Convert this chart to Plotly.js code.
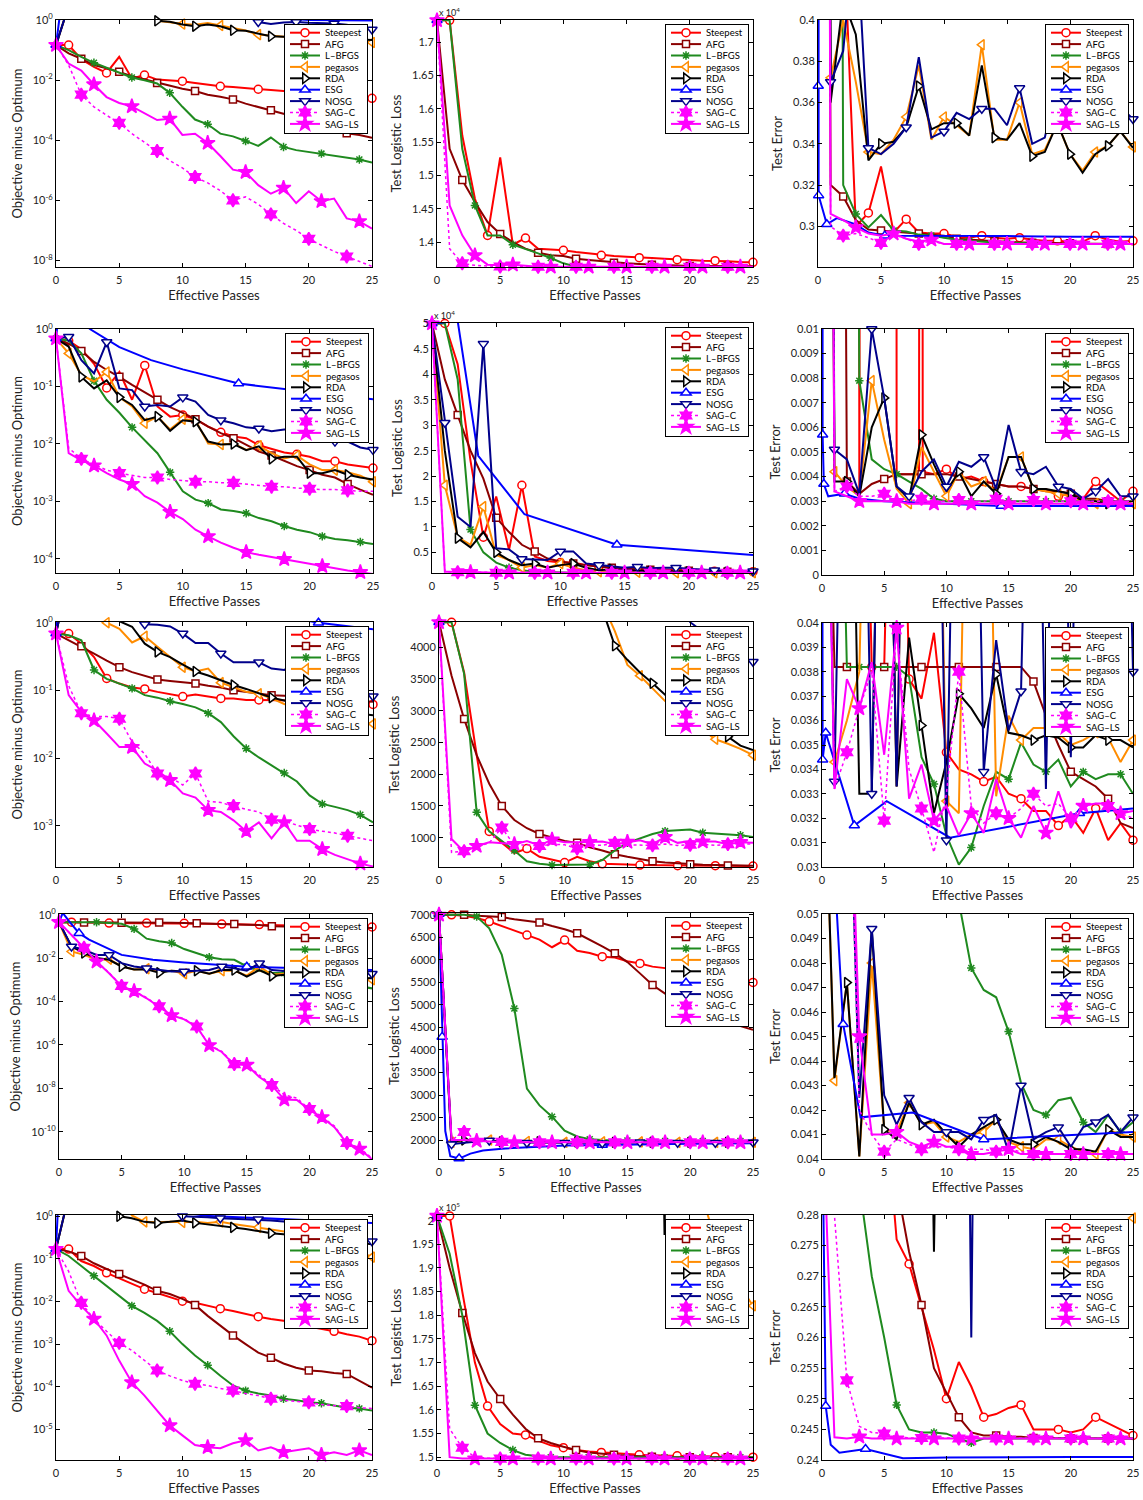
<!DOCTYPE html>
<html><head><meta charset="utf-8">
<script src="https://cdn.plot.ly/plotly-3.0.1.min.js"></script>
<style>html,body{margin:0;padding:0;background:#fff}#chart{width:1143px;height:1500px}</style>
</head><body><div id="chart"></div>
<script>
// ---------------- DATA ----------------
const passes = [0,1,2,3,4,5,6,7,8,9,10,11,12,13,14,15,16,17,18,19,20,21,22,23,24,25];
const seriesNames = ['Steepest','AFG','L\u2013BFGS','pegasos','RDA','ESG','NOSG','SAG\u2013C','SAG\u2013LS'];

// Panel 1
const p1_steep = [0.148,0.148,0.05,0.028,0.0174,0.06,0.0115,0.0148,0.0105,0.0098,0.0093,0.0081,0.0071,0.0063,0.0059,0.0054,0.005,0.0047,0.0044,0.0041,0.0038,0.0035,0.0034,0.0032,0.003,0.0025];
const p1_afg = [0.148,0.078,0.052,0.032,0.025,0.019,0.0135,0.0105,0.0081,0.0063,0.0052,0.0044,0.0033,0.0028,0.0023,0.00166,0.0013,0.001,7.6e-4,5.8e-4,4.2e-4,3.2e-4,2.3e-4,1.7e-4,1.5e-4,1.2e-4];
const p1_lbfgs = [0.148,0.1,0.06,0.038,0.026,0.0174,0.0123,0.01,0.0078,0.0038,0.0013,4.9e-4,3.4e-4,1.66e-4,1.35e-4,9.5e-5,6.5e-5,1.23e-4,6e-5,4.7e-5,4.1e-5,3.6e-5,3.2e-5,2.75e-5,2.3e-5,1.8e-5];
const p1_peg = [0.148,3,3,3,3,3,3,2,0.95,0.85,0.74,0.7,0.8,0.66,0.55,0.45,0.33,0.3,0.28,0.26,0.24,0.22,0.21,0.2,0.19,0.18];
const p1_rda = [0.148,3,3,3,3,3,3,2,0.95,0.88,0.72,0.63,0.72,0.63,0.46,0.44,0.36,0.29,0.28,0.29,0.28,0.26,0.25,0.24,0.23,0.22];
const p1_esg_x = [0,0.4,20,22,25];
const p1_esg = [0.148,3,1.02,0.98,0.97];
const p1_nosg = [0.148,3,3,3,3,3,3,3,3,3,3,3,3,3,3,3,0.87,0.74,0.84,0.87,0.82,0.8,0.78,0.7,0.6,0.49];
const p1_sagc = [0.148,0.032,3.3e-3,1.3e-3,6.8e-4,3.8e-4,1.66e-4,8.7e-5,4.4e-5,2.1e-5,1.2e-5,6e-6,3.8e-6,2.1e-6,1e-6,1.3e-6,7.4e-7,3.4e-7,1.7e-7,1e-7,5.2e-8,3.2e-8,2e-8,1.35e-8,9.3e-9,6.3e-9];
const p1_sagls = [0.148,0.036,0.021,7.2e-3,2.75e-3,1.74e-3,1.35e-3,7.8e-4,4.7e-4,5.2e-4,1.5e-4,1.66e-4,8.1e-5,3e-5,1.05e-5,8.7e-6,3.2e-6,1.66e-6,2.6e-6,8.1e-7,2e-6,9.3e-7,1.15e-6,2.5e-7,2e-7,1.15e-7];

// Panel 2 (x 10^4)
const p2_steep = [1.733,1.733,1.56,1.465,1.41,1.527,1.396,1.406,1.39,1.389,1.3875,1.385,1.383,1.38,1.379,1.378,1.3765,1.376,1.375,1.3735,1.373,1.372,1.372,1.371,1.37,1.3695];
const p2_afg = [1.733,1.54,1.493,1.46,1.43,1.412,1.4,1.39,1.384,1.38,1.379,1.375,1.373,1.371,1.369,1.368,1.367,1.366,1.365,1.365,1.364,1.364,1.364,1.3635,1.3635,1.3635];
const p2_lbfgs = [1.733,1.733,1.54,1.455,1.41,1.41,1.396,1.39,1.383,1.376,1.368,1.363,1.362,1.362,1.362,1.362,1.362,1.362,1.362,1.362,1.362,1.362,1.362,1.362,1.362,1.362];
const p2_off_x = [0,0.3,25];
const p2_peg = [1.733,2.5,2.5];
const p2_rda = [1.733,2.5,2.5];
const p2_esg = [1.733,2.5,2.5];
const p2_nosg = [1.733,2.5,2.5];
const p2_sagc = [1.733,1.39,1.368,1.365,1.364,1.3632,1.363,1.363,1.3628,1.3628,1.3628,1.3628,1.3628,1.3628,1.3628,1.3628,1.3628,1.3628,1.3628,1.3628,1.3628,1.3628,1.3628,1.3628,1.3628,1.3628];
const p2_sagls = [1.733,1.455,1.41,1.38,1.366,1.365,1.366,1.364,1.3628,1.3628,1.3628,1.3628,1.3628,1.3628,1.3628,1.3628,1.3628,1.3628,1.3628,1.3628,1.3628,1.3628,1.3628,1.3628,1.3628,1.3628];

// Panel 3
const p3_steep = [2,2,0.45,0.3,0.3065,0.329,0.297,0.3035,0.297,0.2965,0.2965,0.295,0.2945,0.2955,0.2945,0.294,0.2945,0.2935,0.293,0.293,0.2925,0.2925,0.2955,0.2935,0.2925,0.293];
const p3_afg = [2,0.32,0.3145,0.303,0.2985,0.298,0.2975,0.297,0.2965,0.296,0.2955,0.294,0.2935,0.293,0.2928,0.2925,0.2922,0.292,0.292,0.2918,0.2918,0.2916,0.2916,0.2915,0.2915,0.2915];
const p3_lbfgs = [2,2,0.32,0.306,0.2995,0.3055,0.298,0.2975,0.296,0.2955,0.2945,0.2935,0.293,0.2925,0.2922,0.292,0.292,0.2918,0.2916,0.2915,0.2915,0.2915,0.2915,0.2915,0.2915,0.2915];
const p3_peg = [2,0.372,0.4,0.37,0.336,0.335,0.342,0.353,0.378,0.342,0.353,0.349,0.344,0.388,0.342,0.342,0.36,0.335,0.337,0.35,0.335,0.327,0.336,0.339,0.346,0.3385];
const p3_rda = [2,0.36,0.41,0.393,0.332,0.34,0.341,0.348,0.368,0.347,0.35,0.35,0.344,0.378,0.343,0.342,0.35,0.334,0.336,0.35,0.335,0.326,0.335,0.339,0.346,0.338];
const p3_esg_x = [0,0.02,0.05,0.7,1.5,3,4,5.3,10,15,20,25];
const p3_esg = [2,0.368,0.315,0.301,0.304,0.301,0.297,0.2955,0.2955,0.2953,0.295,0.295];
const p3_nosg = [2,0.37,0.385,0.45,0.338,0.335,0.34,0.348,0.382,0.343,0.346,0.355,0.352,0.357,0.357,0.349,0.367,0.34,0.343,0.37,0.36,0.347,0.355,0.356,0.358,0.352];
const p3_sagc = [2,0.3,0.2955,0.2965,0.2945,0.292,0.296,0.294,0.2915,0.293,0.2915,0.2915,0.2915,0.2915,0.2915,0.2915,0.2915,0.2915,0.2915,0.2915,0.2915,0.2915,0.2915,0.2915,0.2915,0.2915];
const p3_sagls = [2,0.306,0.303,0.2995,0.2965,0.2955,0.2965,0.294,0.2925,0.2935,0.2915,0.2915,0.2915,0.2915,0.2915,0.2915,0.2915,0.2915,0.2915,0.2915,0.2915,0.2915,0.2915,0.2915,0.2915,0.2915];

// Panel 4
const p4_steep = [0.69,0.63,0.45,0.25,0.095,0.18,0.059,0.234,0.045,0.03,0.032,0.027,0.02,0.016,0.0135,0.0126,0.0095,0.0081,0.0071,0.0066,0.006,0.005,0.005,0.0044,0.0041,0.0038];
const p4_afg = [0.69,0.56,0.42,0.27,0.195,0.148,0.107,0.079,0.059,0.044,0.035,0.027,0.02,0.0155,0.0126,0.0098,0.0074,0.0063,0.005,0.0041,0.0035,0.0029,0.0026,0.002,0.0016,0.0013];
const p4_lbfgs = [0.69,0.63,0.38,0.126,0.059,0.035,0.0195,0.0117,0.0069,0.0032,0.0015,0.00107,9.3e-4,7.2e-4,6.8e-4,6.2e-4,5.1e-4,4.5e-4,3.7e-4,3.2e-4,2.9e-4,2.45e-4,2.2e-4,2.1e-4,1.95e-4,1.8e-4];
const p4_peg = [0.69,0.38,0.16,0.123,0.18,0.066,0.045,0.023,0.03,0.018,0.027,0.026,0.0102,0.0098,0.0102,0.0079,0.0093,0.0069,0.0056,0.0063,0.0044,0.0035,0.0035,0.0032,0.0028,0.0022];
const p4_rda = [0.69,0.5,0.148,0.093,0.129,0.065,0.048,0.026,0.03,0.017,0.026,0.0245,0.011,0.0098,0.01,0.0078,0.0091,0.0055,0.006,0.006,0.0031,0.0031,0.0035,0.0029,0.0026,0.0024];
const p4_esg_x = [0,0.3,2.7,5,7.5,10,14.4,20,25];
const p4_esg = [0.69,3,1.0,0.49,0.29,0.2,0.113,0.08,0.06];
const p4_nosg = [0.69,0.74,0.29,0.17,0.6,0.093,0.087,0.045,0.048,0.045,0.065,0.055,0.032,0.026,0.023,0.0195,0.0186,0.0166,0.0178,0.0178,0.0145,0.0126,0.011,0.011,0.0087,0.0079];
const p4_sagc = [0.69,0.0085,0.0055,0.0044,0.0035,0.0031,0.0028,0.0026,0.0026,0.0024,0.0023,0.0022,0.0022,0.0021,0.0021,0.002,0.0019,0.0018,0.0018,0.0017,0.00166,0.0016,0.0016,0.00155,0.0015,0.0015];
const p4_sagls = [0.69,0.0069,0.0052,0.0042,0.0031,0.0024,0.002,0.00123,9.5e-4,6.5e-4,4.9e-4,3.2e-4,2.45e-4,1.9e-4,1.55e-4,1.3e-4,1.17e-4,1.07e-4,9.8e-5,8.7e-5,8.1e-5,7.4e-5,6.8e-5,6.2e-5,5.8e-5,5.4e-5];

// Panel 5 (x 10^4)
const p5_steep = [5,5,4.2,2.3,0.8,1.6,0.55,1.82,0.42,0.33,0.3,0.3,0.25,0.22,0.2,0.19,0.18,0.17,0.16,0.15,0.14,0.14,0.13,0.13,0.12,0.12];
const p5_afg = [5,3.9,3.2,2.5,1.95,1.18,0.9,0.65,0.52,0.38,0.32,0.28,0.25,0.22,0.2,0.18,0.17,0.16,0.15,0.14,0.14,0.13,0.13,0.12,0.12,0.12];
const p5_lbfgs = [5,5,3.9,0.95,0.5,0.3,0.2,0.15,0.12,0.11,0.1,0.1,0.1,0.1,0.1,0.1,0.1,0.1,0.1,0.1,0.1,0.1,0.1,0.1,0.1,0.1];
const p5_peg = [5,1.82,0.8,0.65,1.4,0.45,0.35,0.2,0.25,0.2,0.28,0.2,0.15,0.12,0.12,0.11,0.11,0.11,0.1,0.1,0.1,0.1,0.1,0.1,0.1,0.1];
const p5_rda = [5,2.5,0.78,0.6,0.9,0.5,0.35,0.25,0.28,0.2,0.25,0.28,0.2,0.15,0.17,0.15,0.14,0.13,0.13,0.12,0.12,0.12,0.11,0.11,0.11,0.11];
const p5_esg_x = [0,2,3.6,7.2,14.4,25];
const p5_esg = [5,5.05,2.4,1.25,0.65,0.45];
const p5_nosg = [5,3.05,1.2,1.0,4.6,0.58,0.56,0.37,0.36,0.35,0.52,0.52,0.28,0.25,0.22,0.2,0.22,0.19,0.2,0.2,0.18,0.16,0.15,0.14,0.13,0.13];
const p5_sagc = [5,0.12,0.11,0.11,0.105,0.1,0.1,0.1,0.1,0.1,0.1,0.1,0.1,0.1,0.1,0.1,0.1,0.1,0.1,0.1,0.1,0.1,0.1,0.1,0.1,0.1];
const p5_sagls = [5,0.12,0.12,0.11,0.1,0.1,0.1,0.1,0.1,0.1,0.1,0.1,0.1,0.1,0.1,0.1,0.1,0.1,0.1,0.1,0.1,0.1,0.1,0.1,0.1,0.1];

// Panel 6
const p6_steep_x = [0,2.9,3,3.3,5.9,6,7.8,7.95,8.1,9,10,11,12,13,14,15,16,17,18,19,20,21,22,23,24,25];
const p6_steep = [0.1,0.1,0.0031,0.1,0.1,0.0041,0.0041,0.1,0.0042,0.0041,0.0043,0.0039,0.004,0.0038,0.0037,0.0036,0.0036,0.0035,0.0035,0.0032,0.0033,0.0031,0.0038,0.0034,0.003,0.0034];
const p6_afg = [0.1,0.1,0.0038,0.0033,0.0037,0.0039,0.0041,0.0041,0.0041,0.0041,0.0041,0.004,0.0039,0.0038,0.0037,0.0036,0.0036,0.0035,0.0034,0.0034,0.0033,0.0031,0.0031,0.003,0.003,0.003];
const p6_lbfgs = [0.1,0.1,0.1,0.0079,0.0047,0.0043,0.0041,0.0038,0.0035,0.0031,0.003,0.003,0.003,0.003,0.003,0.003,0.003,0.003,0.003,0.003,0.003,0.003,0.003,0.003,0.003,0.003];
const p6_peg = [0.1,0.0042,0.0036,0.0032,0.0079,0.0055,0.0035,0.0029,0.0052,0.0042,0.0032,0.0042,0.0036,0.0038,0.0034,0.0048,0.0048,0.0035,0.0034,0.0033,0.0032,0.003,0.0029,0.003,0.0029,0.0029];
const p6_rda = [0.1,0.0038,0.0038,0.0032,0.006,0.0072,0.0036,0.0031,0.0057,0.0045,0.0034,0.0042,0.0032,0.0038,0.0033,0.0048,0.0048,0.0035,0.0035,0.0034,0.0033,0.003,0.003,0.0029,0.0029,0.0029];
const p6_esg_x = [0,0.05,0.15,0.5,1.8,3,5,10,14.4,20,25];
const p6_esg = [0.1,0.0057,0.0037,0.0032,0.0033,0.0031,0.003,0.0029,0.0028,0.0028,0.0028];
const p6_nosg = [0.1,0.0051,0.0047,0.0033,0.01,0.0072,0.0036,0.0032,0.0042,0.0047,0.0036,0.0046,0.0044,0.0048,0.0035,0.0061,0.0042,0.0041,0.0044,0.0036,0.0035,0.0031,0.0034,0.0039,0.0032,0.0032];
const p6_sagc = [0.1,0.0034,0.0036,0.0032,0.0032,0.0033,0.0031,0.003,0.0031,0.003,0.003,0.00305,0.003,0.003,0.0031,0.003,0.003,0.00305,0.003,0.003,0.003,0.003,0.003,0.003,0.003,0.003];
const p6_sagls = [0.1,0.0034,0.0032,0.003,0.003,0.003,0.003,0.0029,0.0029,0.0029,0.0029,0.0029,0.0029,0.0029,0.0029,0.0029,0.0029,0.0029,0.0029,0.0029,0.0029,0.0029,0.0029,0.0029,0.0029,0.0029];

// Panel 7
const p7_steep = [0.69,0.69,0.49,0.31,0.15,0.126,0.11,0.105,0.095,0.087,0.081,0.087,0.081,0.076,0.076,0.072,0.072,0.072,0.072,0.071,0.069,0.069,0.068,0.066,0.065,0.062];
const p7_afg = [0.69,0.55,0.45,0.35,0.275,0.22,0.186,0.166,0.145,0.138,0.132,0.126,0.117,0.11,0.1,0.095,0.089,0.085,0.083,0.079,0.078,0.076,0.074,0.072,0.071,0.068];
const p7_lbfgs = [0.69,0.65,0.55,0.2,0.148,0.126,0.107,0.085,0.078,0.069,0.063,0.056,0.046,0.034,0.021,0.0138,0.0102,0.0078,0.006,0.0045,0.0028,0.0021,0.0019,0.0017,0.00145,0.00112];
const p7_peg = [0.69,5,5,2,1.0,0.81,0.51,0.63,0.44,0.31,0.22,0.19,0.21,0.13,0.112,0.095,0.089,0.076,0.063,0.056,0.05,0.045,0.04,0.037,0.034,0.032];
const p7_rda = [0.69,5,5,5,3,1.05,0.87,0.49,0.37,0.31,0.24,0.19,0.166,0.141,0.12,0.105,0.091,0.078,0.071,0.063,0.058,0.054,0.05,0.047,0.045,0.043];
const p7_esg_x = [0,0.1,20.7,25];
const p7_esg = [0.69,5,1.0,0.8];
const p7_nosg = [0.69,5,5,5,5,5,5,0.95,0.93,0.88,0.69,0.5,0.5,0.35,0.26,0.26,0.26,0.21,0.2,0.25,0.2,0.16,0.13,0.11,0.1,0.082];
const p7_sagc = [0.69,0.117,0.046,0.041,0.041,0.038,0.0174,0.0115,0.0059,0.0052,0.004,0.0059,0.0023,0.0022,0.00195,0.00174,0.0016,0.00123,0.00117,0.00102,8.9e-4,8.3e-4,7.8e-4,7.1e-4,6.6e-4,6e-4];
const p7_sagls = [0.69,0.085,0.048,0.036,0.023,0.0145,0.0145,0.0083,0.0065,0.0047,0.003,0.0026,0.0017,0.0016,0.0012,8.3e-4,0.00112,6.5e-4,0.00112,6e-4,6e-4,4.5e-4,3.7e-4,3.2e-4,2.75e-4,2.5e-4];

// Panel 8
const p8_steep = [4390,4390,3600,2300,1100,920,760,830,700,650,610,700,630,590,590,580,570,570,565,560,560,560,560,558,556,555];
const p8_afg = [4390,3550,2870,2300,1850,1500,1280,1150,1060,1000,950,920,850,800,740,700,660,630,610,595,585,575,570,565,560,558];
const p8_lbfgs = [4390,4390,3580,1400,1100,950,800,630,590,570,570,570,580,650,800,920,990,1060,1105,1115,1130,1080,1070,1060,1040,1010];
const p8_peg = [4390,6000,6000,6000,6000,6000,6000,6000,6000,6000,6000,6000,6000,4700,4250,3720,3550,3350,3150,3000,2850,2700,2550,2480,2400,2300];
const p8_rda = [4390,6000,6000,6000,6000,6000,6000,6000,6000,6000,6000,6000,6000,4600,4020,3800,3600,3430,3250,3100,2950,2800,2700,2590,2450,2380];
const p8_esg_x = [0,0.2,25];
const p8_esg = [4390,6000,6000];
const p8_nosg = [4390,6000,6000,6000,6000,6000,6000,6000,6000,6000,6000,6000,6000,6000,6000,6000,6000,6000,6000,6000,4390,4250,4100,3950,3850,3770];
const p8_sagc = [4390,770,790,860,920,1160,880,890,870,900,890,830,890,880,920,890,880,880,900,880,890,900,880,900,900,900];
const p8_sagls = [4390,980,780,870,930,910,900,950,880,970,930,930,930,940,900,935,960,900,1010,920,950,940,940,900,930,920];

// Panel 9
const p9_steep = [0.06,0.06,0.06,0.06,0.0382,0.0382,0.06,0.0377,0.0369,0.0396,0.0347,0.034,0.0338,0.0335,0.0337,0.033,0.0328,0.0323,0.0323,0.0317,0.0321,0.0314,0.0324,0.0311,0.0318,0.0311];
const p9_afg = [0.06,0.0382,0.0382,0.0382,0.0382,0.0382,0.0382,0.0382,0.0382,0.0382,0.0382,0.0382,0.0382,0.0382,0.0382,0.0382,0.0382,0.0376,0.0362,0.035,0.0339,0.0336,0.0333,0.0328,0.0318,0.0316];
const p9_lbfgs = [0.06,0.06,0.0382,0.0382,0.0382,0.0382,0.0382,0.0378,0.0345,0.0334,0.0313,0.0301,0.0308,0.0325,0.0339,0.0336,0.0351,0.0342,0.0339,0.0344,0.0333,0.0339,0.0336,0.0338,0.0338,0.033];
const p9_peg = [0.06,0.0343,0.036,0.038,0.06,0.06,0.0333,0.06,0.06,0.06,0.0327,0.0322,0.06,0.06,0.0329,0.0362,0.0352,0.0357,0.0357,0.0355,0.035,0.0352,0.0355,0.0353,0.0343,0.0352];
const p9_rda = [0.06,0.06,0.06,0.033,0.033,0.06,0.0333,0.0394,0.0358,0.0322,0.0343,0.0371,0.0365,0.0357,0.0379,0.0355,0.0354,0.0352,0.0354,0.0353,0.0349,0.0349,0.0354,0.0352,0.0352,0.0349];
const p9_esg_x = [0,0.05,0.3,2.6,5.2,10.3,20.7,25];
const p9_esg = [0.06,0.0344,0.0355,0.0317,0.0327,0.0312,0.0322,0.0324];
const p9_nosg = [0.06,0.0335,0.06,0.06,0.033,0.06,0.0333,0.06,0.06,0.06,0.0311,0.06,0.06,0.0339,0.0393,0.0356,0.0372,0.06,0.0332,0.06,0.0345,0.06,0.06,0.06,0.06,0.038];
const p9_sagc = [0.06,0.0332,0.0347,0.0365,0.038,0.0319,0.0398,0.034,0.0324,0.0306,0.033,0.038,0.0325,0.0318,0.0322,0.032,0.0324,0.033,0.0325,0.0326,0.032,0.0325,0.0326,0.0325,0.0322,0.032];
const p9_sagls = [0.06,0.0332,0.0377,0.0365,0.0384,0.0346,0.0398,0.0328,0.0342,0.0319,0.0325,0.0313,0.0322,0.0314,0.0336,0.032,0.0312,0.0325,0.0314,0.0331,0.0316,0.0325,0.0326,0.0326,0.0322,0.0323];

// Panel 10
const p10_steep = [0.45,0.45,0.44,0.43,0.41,0.41,0.41,0.41,0.4,0.4,0.4,0.39,0.38,0.37,0.36,0.36,0.35,0.34,0.33,0.33,0.32,0.31,0.3,0.29,0.28,0.27];
const p10_afg = [0.45,0.45,0.44,0.43,0.42,0.42,0.42,0.42,0.43,0.42,0.41,0.4,0.39,0.38,0.37,0.36,0.33,0.29,0.28,0.27,0.27,0.26,0.26,0.25,0.25,0.24];
const p10_lbfgs = [0.45,0.45,0.45,0.45,0.41,0.38,0.22,0.078,0.06,0.049,0.026,0.017,0.011,0.0089,0.0083,0.0041,0.0026,0.0021,0.002,0.0016,0.00126,0.001,7.9e-4,6.3e-4,5e-4,4e-4];
const p10_peg = [0.45,0.02,0.014,0.0083,0.0089,0.0041,0.003,0.0032,0.0024,0.0026,0.0019,0.0026,0.0019,0.0026,0.0026,0.00155,0.0041,0.0017,0.0019,0.0015,0.0014,0.0013,0.00126,0.00117,0.0011,0.001];
const p10_rda = [0.45,0.034,0.017,0.01,0.0083,0.0041,0.003,0.003,0.0021,0.0026,0.0024,0.0026,0.0019,0.0028,0.0028,0.0014,0.0028,0.0015,0.0017,0.00135,0.00135,0.0013,0.00126,0.00123,0.0012,0.00117];
const p10_esg_x = [0,0.3,0.8,1.6,2.4,5,7.5,10,15,20,25];
const p10_esg = [0.45,1.2,0.5,0.14,0.07,0.014,0.0083,0.0063,0.004,0.0034,0.0028];
const p10_nosg = [0.45,0.034,0.024,0.014,0.014,0.0058,0.0041,0.0034,0.0028,0.0024,0.0024,0.0026,0.0028,0.0041,0.0034,0.0026,0.0058,0.0028,0.0025,0.0025,0.0024,0.0022,0.0021,0.002,0.0019,0.0019];
const p10_sagc = [0.45,0.12,0.03,7e-3,2.1e-3,5.2e-4,3e-4,1.5e-4,6e-5,2.4e-5,1.6e-5,7e-6,1e-6,5e-7,1.3e-7,1.3e-7,4e-8,1.4e-8,5e-9,3.5e-9,1.1e-9,5e-10,1.8e-10,3e-11,1.8e-11,6e-12];
const p10_sagls = [0.45,0.117,0.029,6.9e-3,2e-3,5.1e-4,3e-4,1.4e-4,5.8e-5,2.3e-5,1.5e-5,6.8e-6,9.5e-7,4.7e-7,1.2e-7,1.2e-7,3.3e-8,1.35e-8,3e-9,2.9e-9,1e-9,4.6e-10,1.6e-10,2.9e-11,1.6e-11,5.4e-12];

// Panel 11
const p11_steep = [7000,7000,6980,6930,6850,6750,6650,6550,6450,6280,6440,6200,6150,6070,6050,5970,5920,5850,5820,5780,5750,5700,5650,5600,5550,5500];
const p11_afg = [7000,7000,7000,6980,6960,6950,6900,6860,6830,6750,6680,6590,6450,6300,6145,5950,5700,5440,5250,5100,4950,4820,4720,4620,4530,4450];
const p11_lbfgs = [7000,7000,7000,6960,6700,6110,4920,3140,2770,2520,2210,2080,2020,2000,2000,1990,1980,1980,1980,1980,1980,1980,1980,1980,1980,1980];
const p11_peg = [7000,1950,1980,1970,2000,1960,1960,1970,1950,1960,1950,1960,1950,1960,1950,1950,1960,1950,1950,1950,1950,1950,1950,1950,1950,1950];
const p11_rda = [7000,1960,2000,1980,1990,1960,1960,1950,1960,1950,1950,1960,1950,1950,1950,1960,1950,1950,1950,1950,1950,1950,1950,1950,1950,1950];
const p11_esg_x = [0,0.25,0.5,0.9,1.6,2.5,3.5,5,7.5,10,13,16,20,25];
const p11_esg = [7020,4290,2200,1640,1590,1700,1770,1810,1850,1880,1890,1910,1920,1930];
const p11_nosg = [7000,1910,1940,1960,1990,1950,1950,1940,1950,1940,1940,1950,1940,1930,1950,1950,1950,1950,1950,1940,1950,1950,1940,1950,1950,1950];
const p11_sagc = [7000,2000,2180,2000,1960,1960,1950,1950,1950,1950,1950,1950,1950,1950,1950,1950,1950,1950,1950,1950,1950,1950,1950,1950,1950,1950];
const p11_sagls = [7000,2000,2000,1980,1960,1950,1950,1950,1950,1950,1950,1950,1950,1950,1950,1950,1950,1950,1950,1950,1950,1950,1950,1950,1950,1950];

// Panel 12
const p12_off_x = [0,25];
const p12_steep = [0.06,0.06];
const p12_afg = [0.06,0.06];
const p12_lbfgs = [0.06,0.06,0.06,0.06,0.06,0.06,0.06,0.06,0.06,0.06,0.06,0.0505,0.0478,0.0469,0.0466,0.0452,0.0431,0.042,0.0418,0.0424,0.0425,0.0415,0.0411,0.0418,0.0411,0.0415];
const p12_peg = [0.06,0.0432,0.0472,0.0401,0.048,0.0412,0.0411,0.0423,0.0414,0.0415,0.0409,0.0407,0.041,0.0411,0.0416,0.0407,0.0405,0.0404,0.0408,0.0408,0.0405,0.0403,0.0402,0.0412,0.041,0.0409];
const p12_rda = [0.06,0.0433,0.0472,0.0401,0.0494,0.0412,0.0408,0.0423,0.0414,0.0416,0.041,0.0405,0.041,0.0413,0.0416,0.0408,0.0406,0.0406,0.0409,0.0407,0.0404,0.0404,0.0403,0.0412,0.0409,0.0409];
const p12_esg_x = [0,1.2,1.7,3.1,7.3,13,25];
const p12_esg = [0.08,0.05,0.0455,0.0417,0.0419,0.0408,0.0411];
const p12_nosg = [0.06,0.06,0.06,0.0425,0.0494,0.0426,0.0414,0.0425,0.0415,0.0411,0.0411,0.0411,0.0408,0.0416,0.0418,0.0403,0.043,0.0408,0.0411,0.0413,0.0405,0.0413,0.0415,0.0418,0.0411,0.0417];
const p12_sagc = [0.06,0.06,0.06,0.042,0.041,0.0403,0.0408,0.0406,0.0404,0.0405,0.0405,0.0404,0.0404,0.0404,0.0403,0.0404,0.0403,0.0402,0.0402,0.0402,0.0402,0.0402,0.0402,0.0402,0.0402,0.0402];
const p12_sagls = [0.06,0.06,0.06,0.045,0.041,0.041,0.0411,0.0407,0.0405,0.0407,0.0405,0.0405,0.0402,0.0402,0.0403,0.0404,0.0402,0.0402,0.0402,0.0402,0.0402,0.0402,0.0402,0.0402,0.0402,0.0402];

// Panel 13
const p13_steep = [0.17,0.17,0.089,0.068,0.047,0.035,0.026,0.0195,0.0158,0.0129,0.0102,0.0093,0.0079,0.0068,0.006,0.0051,0.0044,0.0039,0.0035,0.0032,0.0026,0.0023,0.002,0.0017,0.0015,0.0012];
const p13_afg = [0.17,0.15,0.117,0.079,0.058,0.044,0.034,0.025,0.0178,0.015,0.0115,0.0083,0.0046,0.0027,0.0016,0.001,6.3e-4,4.8e-4,3.5e-4,2.8e-4,2.4e-4,2.3e-4,2.1e-4,2e-4,1.4e-4,9.5e-5];
const p13_lbfgs = [0.17,0.117,0.068,0.04,0.023,0.0135,0.0079,0.0054,0.0035,0.002,0.001,5.4e-4,3.2e-4,1.8e-4,1.07e-4,8.1e-5,6.9e-5,6.2e-5,5.2e-5,4.8e-5,4.3e-5,4.1e-5,3.6e-5,3.2e-5,3.1e-5,2.75e-5];
const p13_peg = [0.17,3,3,3,3,3,1.05,0.74,0.72,0.74,0.72,0.74,0.7,0.74,0.66,0.6,0.55,0.5,0.44,0.4,0.36,0.3,0.25,0.2,0.15,0.11];
const p13_rda = [0.17,3,3,3,3,1.0,0.9,0.74,0.7,0.74,0.8,0.7,0.65,0.6,0.55,0.5,0.45,0.4,0.38,0.35,0.33,0.3,0.28,0.26,0.24,0.22];
const p13_esg_x = [0,0.2,12,18,25];
const p13_esg = [0.17,3,1.02,0.85,0.7];
const p13_nosg = [0.17,3,3,3,3,3,3,3,3,3,1.0,0.98,0.95,0.9,0.88,0.86,0.85,0.8,0.75,0.7,0.62,0.55,0.48,0.4,0.33,0.26];
const p13_sagc = [0.17,0.051,0.0093,0.0039,0.002,0.00107,7.1e-4,4.1e-4,2.4e-4,1.8e-4,1.4e-4,1.17e-4,1.07e-4,9.1e-5,8.1e-5,6.9e-5,6.2e-5,5.2e-5,4.8e-5,4.5e-5,4.3e-5,3.8e-5,3.6e-5,3.5e-5,3.2e-5,3.1e-5];
const p13_sagls = [0.17,0.0178,0.0079,0.0039,0.0016,4.1e-4,1.26e-4,6.2e-5,2.75e-5,1.23e-5,7.2e-6,4.3e-6,3.8e-6,3.6e-6,4.7e-6,5.5e-6,3.2e-6,3.8e-6,2.9e-6,3.2e-6,3.6e-6,2.5e-6,2.9e-6,2.5e-6,3.2e-6,2.5e-6];

// Panel 14 (x 10^5)
const p14_steep = [2.01,2.01,1.85,1.7,1.608,1.57,1.55,1.547,1.535,1.525,1.52,1.515,1.512,1.51,1.508,1.506,1.505,1.504,1.503,1.503,1.502,1.502,1.501,1.501,1.5,1.5];
const p14_afg = [2.01,1.9,1.805,1.72,1.66,1.623,1.59,1.56,1.54,1.53,1.522,1.515,1.51,1.507,1.505,1.503,1.502,1.501,1.5,1.5,1.5,1.5,1.5,1.5,1.5,1.5];
const p14_lbfgs = [2.01,1.93,1.8,1.61,1.55,1.53,1.515,1.505,1.502,1.5,1.5,1.5,1.5,1.5,1.5,1.5,1.5,1.5,1.5,1.5,1.5,1.5,1.5,1.5,1.5,1.5];
const p14_peg_x = [0,0.2,20,21,22,23,24,25];
const p14_peg = [2.01,2.5,2.5,2.05,1.96,1.9,1.86,1.82];
const p14_rda_x = [0,0.2,17.7,18,18.3,25];
const p14_rda = [2.01,2.5,2.5,1.97,2.5,2.5];
const p14_off_x = [0,0.2,25];
const p14_esg = [2.01,2.5,2.5];
const p14_nosg = [2.01,2.5,2.5];
const p14_sagc = [2.01,1.56,1.52,1.5,1.498,1.497,1.497,1.497,1.497,1.497,1.497,1.497,1.497,1.497,1.497,1.497,1.497,1.497,1.497,1.497,1.497,1.497,1.497,1.497,1.497,1.497];
const p14_sagls = [2.01,1.5,1.497,1.497,1.497,1.497,1.497,1.497,1.497,1.497,1.497,1.497,1.497,1.497,1.497,1.497,1.497,1.497,1.497,1.497,1.497,1.497,1.497,1.497,1.497,1.497];

// Panel 15
const p15_steep = [0.3,0.3,0.3,0.3,0.3,0.3,0.276,0.272,0.265,0.258,0.25,0.256,0.252,0.247,0.2475,0.2485,0.249,0.245,0.245,0.245,0.2445,0.245,0.247,0.246,0.245,0.244];
const p15_afg = [0.3,0.3,0.3,0.3,0.3,0.3,0.285,0.274,0.2653,0.255,0.251,0.247,0.2445,0.244,0.244,0.2438,0.2438,0.2436,0.2436,0.2436,0.2435,0.2435,0.2435,0.2435,0.2435,0.2435];
const p15_lbfgs = [0.3,0.3,0.3,0.285,0.27,0.26,0.249,0.245,0.2445,0.2445,0.2443,0.2435,0.2428,0.2435,0.2435,0.2435,0.2435,0.2435,0.2435,0.2435,0.2435,0.2435,0.2435,0.2435,0.2435,0.2435];
const p15_peg_x = [0,24,25];
const p15_peg = [0.3,0.3,0.2795];
const p15_rda_x = [0,8.8,9,9.2,25];
const p15_rda = [0.3,0.3,0.274,0.3,0.3];
const p15_esg_x = [0,0.3,0.7,1.4,3.5,6.5,10,15,20,25];
const p15_esg = [0.3,0.2488,0.2425,0.2412,0.2418,0.2403,0.2404,0.2405,0.2405,0.2405];
const p15_nosg_x = [0,11.8,12,12.2,25];
const p15_nosg = [0.3,0.3,0.26,0.3,0.3];
const p15_sagc = [0.3,0.28,0.253,0.2455,0.2445,0.2443,0.2438,0.2436,0.2436,0.2436,0.2435,0.2435,0.2435,0.2435,0.2435,0.2435,0.2435,0.2435,0.2435,0.2435,0.2435,0.2435,0.2435,0.2435,0.2435,0.2435];
const p15_sagls = [0.3,0.2437,0.2435,0.2438,0.2435,0.2435,0.2435,0.2435,0.2435,0.2435,0.2435,0.2435,0.2435,0.2435,0.2435,0.2435,0.2435,0.2435,0.2435,0.2435,0.2435,0.2435,0.2435,0.2435,0.2435,0.2435];

// log tick values
const logTicks1 = [1,1e-2,1e-4,1e-6,1e-8];
const logTicks4 = [1,1e-1,1e-2,1e-3,1e-4];
const logTicks7 = [1,1e-1,1e-2,1e-3];
const logTicks10 = [1,1e-2,1e-4,1e-6,1e-8,1e-10];
const logTicks13 = [1,1e-1,1e-2,1e-3,1e-4,1e-5];

// ---------------- STYLE / LAYOUT ----------------
const W = 1143, H = 1500;
const FONT = 'Lato, "Noto Sans", sans-serif';
const STYLE = [
  {color:'#ff0000', symbol:'circle', size:8, fill:'#ffffff', off:1},
  {color:'#8b0000', symbol:'square', size:7, fill:'#ffffff', off:2},
  {color:'#1f8a1f', symbol:'asterisk-open', size:7, fill:'#1f8a1f', off:0},
  {color:'#ff8c00', symbol:'triangle-left', size:9, fill:'#ffffff', off:1},
  {color:'#000000', symbol:'triangle-right', size:9, fill:'#ffffff', off:2},
  {color:'#0000ff', symbol:'triangle-up', size:9, fill:'#ffffff', off:0},
  {color:'#00008b', symbol:'triangle-down', size:9, fill:'#ffffff', off:1},
  {color:'#ff00ff', symbol:'hexagram', size:10, fill:'#ff00ff', off:2, dash:'dot', width:1.5},
  {color:'#ff00ff', symbol:'star', size:11, fill:'#ff00ff', off:0}
];
function S(y, x, marks){ return {y:y, x:x, marks:marks}; }
const T1='Objective minus Optimum', T2='Test Logistic Loss', T3='Test Error';
const PANELS = [
 {box:[56,372,20,267], type:'log', range:[-8.22,0.005], ticks:logTicks1, title:T1,
  s:[S(p1_steep),S(p1_afg),S(p1_lbfgs),S(p1_peg),S(p1_rda),S(p1_esg,p1_esg_x,[0]),S(p1_nosg),S(p1_sagc),S(p1_sagls)]},
 {box:[437,753,20,267], type:'linear', range:[1.3625,1.7335], tick0:1.4, dtick:0.05, title:T2, mult:'4',
  s:[S(p2_steep),S(p2_afg),S(p2_lbfgs),S(p2_peg,p2_off_x),S(p2_rda,p2_off_x),S(p2_esg,p2_off_x,[0]),S(p2_nosg,p2_off_x),S(p2_sagc),S(p2_sagls)]},
 {box:[818,1133,20,267], type:'linear', range:[0.2803,0.4], tick0:0.3, dtick:0.02, title:T3,
  s:[S(p3_steep),S(p3_afg),S(p3_lbfgs),S(p3_peg),S(p3_rda),S(p3_esg,p3_esg_x,[1,2,3,7]),S(p3_nosg),S(p3_sagc),S(p3_sagls)]},
 {box:[56,373,329,573], type:'log', range:[-4.25,0.005], ticks:logTicks4, title:T1,
  s:[S(p4_steep),S(p4_afg),S(p4_lbfgs),S(p4_peg),S(p4_rda),S(p4_esg,p4_esg_x,[0,6]),S(p4_nosg),S(p4_sagc),S(p4_sagls)]},
 {box:[432,753,323,573], type:'linear', range:[0.095,5.01], tick0:0.5, dtick:0.5, title:T2, mult:'4',
  s:[S(p5_steep),S(p5_afg),S(p5_lbfgs),S(p5_peg),S(p5_rda),S(p5_esg,p5_esg_x,[0,4]),S(p5_nosg),S(p5_sagc),S(p5_sagls)]},
 {box:[822,1133,329,575], type:'linear', range:[0,0.01], tick0:0, dtick:0.001, title:T3,
  s:[S(p6_steep,p6_steep_x),S(p6_afg),S(p6_lbfgs),S(p6_peg),S(p6_rda),S(p6_esg,p6_esg_x,[1,2,4,8]),S(p6_nosg),S(p6_sagc),S(p6_sagls)]},
 {box:[56,373,622,867], type:'log', range:[-3.61,0.01], ticks:logTicks7, title:T1,
  s:[S(p7_steep),S(p7_afg),S(p7_lbfgs),S(p7_peg),S(p7_rda),S(p7_esg,p7_esg_x,[0,2]),S(p7_nosg),S(p7_sagc),S(p7_sagls)]},
 {box:[439,753,622,867], type:'linear', range:[540,4395], tick0:1000, dtick:500, title:T2,
  s:[S(p8_steep),S(p8_afg),S(p8_lbfgs),S(p8_peg),S(p8_rda),S(p8_esg,p8_esg_x,[0]),S(p8_nosg),S(p8_sagc),S(p8_sagls)]},
 {box:[822,1133,623,867], type:'linear', range:[0.03,0.04], tick0:0.03, dtick:0.001, title:T3,
  s:[S(p9_steep),S(p9_afg),S(p9_lbfgs),S(p9_peg),S(p9_rda),S(p9_esg,p9_esg_x,[1,2,3,6]),S(p9_nosg),S(p9_sagc),S(p9_sagls)]},
 {box:[59,372,914,1159], type:'log', range:[-11.26,0.03], ticks:logTicks10, title:T1,
  s:[S(p10_steep),S(p10_afg),S(p10_lbfgs),S(p10_peg),S(p10_rda),S(p10_esg,p10_esg_x,[3,8]),S(p10_nosg),S(p10_sagc),S(p10_sagls)]},
 {box:[439,753,913,1159], type:'linear', range:[1580,7040], tick0:2000, dtick:500, title:T2,
  s:[S(p11_steep),S(p11_afg),S(p11_lbfgs),S(p11_peg),S(p11_rda),S(p11_esg,p11_esg_x,[0,1,4,10]),S(p11_nosg),S(p11_sagc),S(p11_sagls)]},
 {box:[822,1133,914,1159], type:'linear', range:[0.04,0.05], tick0:0.04, dtick:0.001, title:T3,
  s:[S(p12_steep,p12_off_x),S(p12_afg,p12_off_x),S(p12_lbfgs),S(p12_peg),S(p12_rda),S(p12_esg,p12_esg_x,[2,5]),S(p12_nosg),S(p12_sagc),S(p12_sagls)]},
 {box:[56,372,1215,1460], type:'log', range:[-5.72,0.03], ticks:logTicks13, title:T1,
  s:[S(p13_steep),S(p13_afg),S(p13_lbfgs),S(p13_peg),S(p13_rda),S(p13_esg,p13_esg_x,[0]),S(p13_nosg),S(p13_sagc),S(p13_sagls)]},
 {box:[437,753,1215,1460], type:'linear', range:[1.494,2.012], tick0:1.5, dtick:0.05, title:T2, mult:'5',
  s:[S(p14_steep),S(p14_afg),S(p14_lbfgs),S(p14_peg,p14_peg_x),S(p14_rda,p14_rda_x),S(p14_esg,p14_off_x,[0]),S(p14_nosg,p14_off_x),S(p14_sagc),S(p14_sagls)]},
 {box:[822,1133,1215,1460], type:'linear', range:[0.24,0.28], tick0:0.24, dtick:0.005, title:T3,
  s:[S(p15_steep),S(p15_afg),S(p15_lbfgs),S(p15_peg,p15_peg_x),S(p15_rda,p15_rda_x),S(p15_esg,p15_esg_x,[1,4]),S(p15_nosg,p15_nosg_x),S(p15_sagc),S(p15_sagls)]}
];

const AX = {showline:true, linecolor:'#000', linewidth:1, mirror:'ticks', ticks:'inside', ticklen:4,
  tickwidth:1, tickcolor:'#000', showgrid:false, zeroline:false, automargin:false,
  exponentformat:'none', separatethousands:false,
  tickfont:{family:FONT, size:11, color:'#222'}};

const traces = [];
const layout = {width:W, height:H, margin:{l:0,r:0,t:0,b:0}, paper_bgcolor:'#fff', plot_bgcolor:'#fff',
  font:{family:FONT, color:'#222'}, showlegend:true, annotations:[]};

PANELS.forEach((P, i) => {
  const n = i + 1, sfx = n === 1 ? '' : String(n);
  const [l, r, t, b] = P.box;
  layout['xaxis' + sfx] = Object.assign({}, AX, {domain:[l/W, r/W], anchor:'y' + sfx, range:[0,25], tick0:0, dtick:5,
    ticklabelstandoff:3,
    title:{text:'Effective Passes', font:{family:FONT, size:13, color:'#222'}, standoff:5}});
  const ya = Object.assign({}, AX, {domain:[1 - b/H, 1 - t/H], anchor:'x' + sfx, type:P.type, range:P.range,
    title:{text:P.title, font:{family:FONT, size:13, color:'#222'}, standoff:7}});
  if (P.type === 'log') {
    ya.tickvals = P.ticks;
    ya.ticktext = P.ticks.map(v => '10<sup>' + Math.round(Math.log10(v)) + '</sup>');
  } else { ya.tick0 = P.tick0; ya.dtick = P.dtick; }
  layout['yaxis' + sfx] = ya;
  layout['legend' + sfx] = {x:(r - 4)/W, y:1 - (t + 4)/H, xanchor:'right', yanchor:'top', xref:'paper', yref:'paper',
    bgcolor:'#fff', bordercolor:'#000', borderwidth:1, font:{family:FONT, size:9.5, color:'#000'},
    itemwidth:30, tracegroupgap:0};
  P.s.forEach((sd, k) => {
    const st = STYLE[k];
    const xs = sd.x || passes;
    const sel = sd.marks ? sd.marks :
      xs.map((v, j) => (Number.isInteger(v) && v % 3 === st.off) ? j : -1).filter(j => j >= 0);
    traces.push({type:'scatter', mode:'lines+markers', name:seriesNames[k], x:xs, y:sd.y,
      xaxis:'x' + sfx, yaxis:'y' + sfx, legend:'legend' + sfx, cliponaxis:false, hoverinfo:'skip',
      line:{color:st.color, width:st.width || 2, dash:st.dash || 'solid'},
      marker:{symbol:st.symbol, size:st.size, color:st.fill, line:{color:st.color, width:1.5}},
      selectedpoints:sel, selected:{marker:{opacity:1}}, unselected:{marker:{opacity:0}}});
  });
  if (P.mult) {
    layout.annotations.push({xref:'paper', yref:'paper', x:l/W, y:1 - (t - 8)/H, xanchor:'left', yanchor:'middle',
      showarrow:false, text:'x 10<sup>' + P.mult + '</sup>', font:{family:FONT, size:9, color:'#222'}});
  }
});

function squeezeLegends() {
  const STEP = 11.4, PAD = 3;
  document.querySelectorAll('g.infolayer > g').forEach(lg => {
    const items = lg.querySelectorAll('g.traces');
    const bg = lg.querySelector('rect.bg');
    if (!items.length || !bg) return;
    items.forEach((it, i) => {
      const m = /translate\(\s*([-\d.e]+)/.exec(it.getAttribute('transform') || '');
      const x = m ? parseFloat(m[1]) : 0;
      it.setAttribute('transform', 'translate(' + x + ',' + (PAD + STEP/2 + i*STEP) + ')');
    });
    bg.setAttribute('height', 2*PAD + items.length*STEP);
  });
}

Plotly.newPlot('chart', traces, layout, {staticPlot:true, displayModeBar:false}).then(squeezeLegends);
</script>
</body></html>
